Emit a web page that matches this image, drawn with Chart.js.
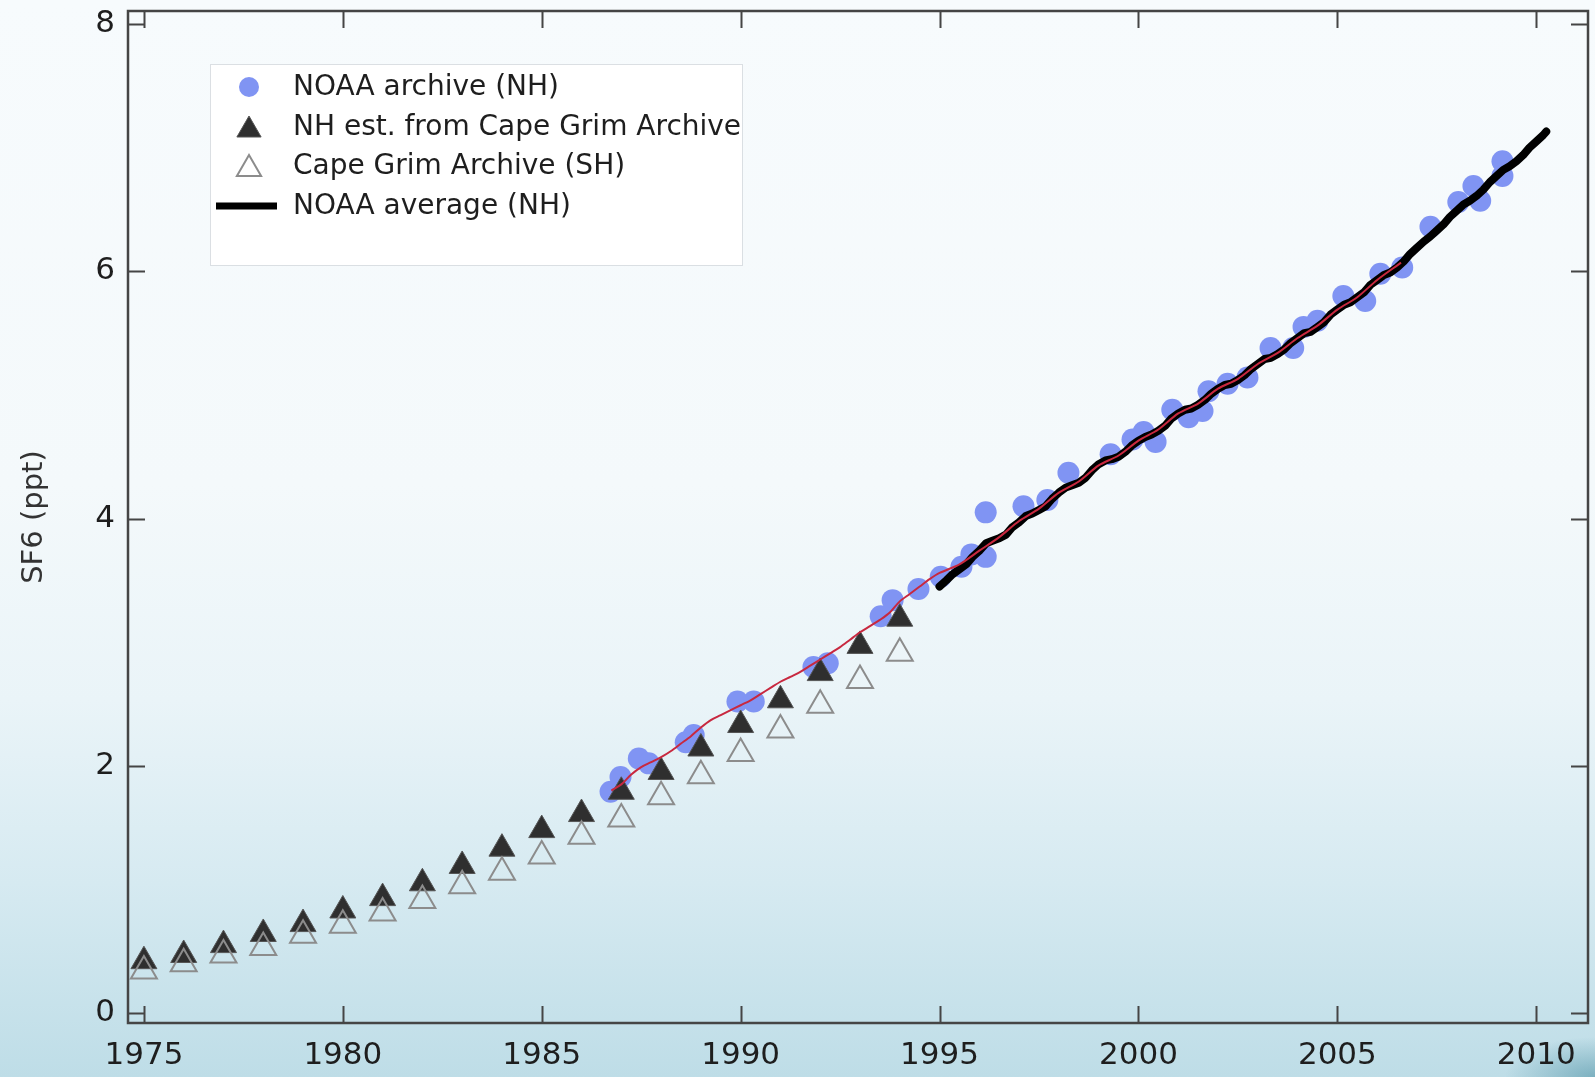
<!DOCTYPE html>
<html>
<head>
<meta charset="utf-8">
<script src="https://cdn.jsdelivr.net/npm/chart.js@4/dist/chart.umd.min.js"></script>
<style>
  html, body { margin: 0; padding: 0; }
  body {
    width: 1595px; height: 1077px; overflow: hidden;
    background:
      radial-gradient(ellipse 90px 40px at 100% 100%, rgba(70,140,160,0.55), rgba(70,140,160,0) 100%),
      linear-gradient(to bottom, #f7fbfd 0%, #f4f9fb 45%, #eaf4f8 65%, #d6eaf1 82%, #bedde7 100%);
  }
  #wrap { position: absolute; left: 0; top: 0; width: 1595px; height: 1077px; }
</style>
</head>
<body>
<div id="wrap"><canvas id="c" width="1595" height="1077"></canvas></div>
<script>
// ---------------- data ----------------
const xTicks = [1975, 1980, 1985, 1990, 1995, 2000, 2005, 2010];
const yTicks = [0, 2, 4, 6, 8];

const triYears = [1975, 1976, 1977, 1978, 1979, 1980, 1981, 1982, 1983, 1984,
                  1985, 1986, 1987, 1988, 1989, 1990, 1991, 1992, 1993, 1994];
const nhEstCapeGrim = [0.42, 0.47, 0.55, 0.64, 0.72, 0.83, 0.93, 1.05, 1.19, 1.33,
                       1.48, 1.61, 1.79, 1.95, 2.14, 2.33, 2.53, 2.75, 2.97, 3.19];
const capeGrimSH = [0.34, 0.40, 0.47, 0.53, 0.63, 0.71, 0.81, 0.91, 1.03, 1.14,
                    1.27, 1.43, 1.57, 1.75, 1.92, 2.10, 2.29, 2.49, 2.69, 2.91];

const archiveYears = [1986.73, 1986.98, 1987.44, 1987.69, 1988.62, 1988.82, 1989.92, 1990.33,
                      1991.83, 1992.19, 1993.52, 1993.82, 1994.47, 1995.03, 1995.55, 1995.80,
                      1996.16, 1996.16, 1997.11, 1997.71, 1998.24, 1999.30, 1999.85, 2000.13,
                      2000.43, 2000.85, 2001.26, 2001.61, 2001.76, 2002.24, 2002.74, 2003.32,
                      2003.89, 2004.15, 2004.50, 2005.15, 2005.70, 2006.08, 2006.63, 2007.34,
                      2008.04, 2008.42, 2008.59, 2009.15, 2009.15];
const archiveVals = [1.79, 1.91, 2.06, 2.02, 2.19, 2.25, 2.52, 2.52,
                     2.80, 2.83, 3.21, 3.34, 3.43, 3.53, 3.61, 3.71,
                     3.69, 4.05, 4.10, 4.15, 4.37, 4.52, 4.64, 4.70,
                     4.62, 4.88, 4.82, 4.87, 5.03, 5.09, 5.14, 5.38,
                     5.38, 5.55, 5.60, 5.80, 5.76, 5.98, 6.03, 6.36,
                     6.56, 6.69, 6.57, 6.89, 6.77];

const avgYears = [1995.00, 1995.17, 1995.33, 1995.50, 1995.67, 1995.83,
                  1996.00, 1996.17, 1996.33, 1996.50, 1996.67, 1996.83,
                  1997.00, 1997.17, 1997.33, 1997.50, 1997.67, 1997.83,
                  1998.00, 1998.17, 1998.33, 1998.50, 1998.67, 1998.83,
                  1999.00, 1999.17, 1999.33, 1999.50, 1999.67, 1999.83,
                  2000.00, 2000.17, 2000.33, 2000.50, 2000.67, 2000.83,
                  2001.00, 2001.17, 2001.33, 2001.50, 2001.67, 2001.83,
                  2002.00, 2002.17, 2002.33, 2002.50, 2002.67, 2002.83,
                  2003.00, 2003.17, 2003.33, 2003.50, 2003.67, 2003.83,
                  2004.00, 2004.17, 2004.33, 2004.50, 2004.67, 2004.83,
                  2005.00, 2005.17, 2005.33, 2005.50, 2005.67, 2005.83,
                  2006.00, 2006.17, 2006.33, 2006.50, 2006.67, 2006.83,
                  2007.00, 2007.17, 2007.33, 2007.50, 2007.67, 2007.83,
                  2008.00, 2008.17, 2008.33, 2008.50, 2008.67, 2008.83,
                  2009.00, 2009.17, 2009.33, 2009.50, 2009.67, 2009.83,
                  2010.00, 2010.17, 2010.25];
const avgVals = [3.45, 3.50, 3.55, 3.59, 3.63, 3.69,
                 3.74, 3.80, 3.82, 3.84, 3.87, 3.93,
                 3.97, 4.02, 4.04, 4.07, 4.10, 4.16,
                 4.21, 4.25, 4.27, 4.29, 4.33, 4.39,
                 4.44, 4.47, 4.48, 4.50, 4.54, 4.59,
                 4.63, 4.66, 4.68, 4.71, 4.75, 4.81,
                 4.85, 4.88, 4.89, 4.92, 4.96, 5.01,
                 5.05, 5.08, 5.09, 5.12, 5.16, 5.21,
                 5.25, 5.29, 5.30, 5.33, 5.37, 5.42,
                 5.46, 5.50, 5.51, 5.55, 5.59, 5.65,
                 5.69, 5.73, 5.75, 5.79, 5.83, 5.89,
                 5.93, 5.97, 5.99, 6.03, 6.08, 6.14,
                 6.19, 6.24, 6.28, 6.33, 6.38, 6.44,
                 6.49, 6.54, 6.57, 6.61, 6.66, 6.72,
                 6.77, 6.82, 6.85, 6.89, 6.94, 7.00,
                 7.05, 7.10, 7.13];

const fitYears = [1986.75, 1987.00, 1987.25, 1987.50, 1987.75, 1988.00, 1988.25, 1988.50, 1988.75,
                  1989.00, 1989.25, 1989.50, 1989.75, 1990.00, 1990.25, 1990.50, 1990.75,
                  1991.00, 1991.25, 1991.50, 1991.75, 1992.00, 1992.25, 1992.50, 1992.75,
                  1993.00, 1993.25, 1993.50, 1993.75, 1994.00, 1994.25, 1994.50, 1994.75,
                  1995.00, 1995.50, 1996.00, 1996.50, 1997.00, 1997.50, 1998.00, 1998.50,
                  1999.00, 1999.50, 2000.00, 2000.50, 2001.00, 2001.50, 2002.00, 2002.50,
                  2003.00, 2003.50, 2004.00, 2004.50, 2005.00, 2005.50, 2006.00, 2006.60];
const fitVals = [1.80, 1.85, 1.93, 1.99, 2.03, 2.07, 2.12, 2.18, 2.24,
                 2.31, 2.37, 2.41, 2.45, 2.49, 2.53, 2.58, 2.63,
                 2.68, 2.72, 2.76, 2.81, 2.86, 2.91, 2.96, 3.02,
                 3.08, 3.13, 3.18, 3.24, 3.33, 3.39, 3.45, 3.51,
                 3.56, 3.63, 3.74, 3.85, 3.98, 4.08, 4.21, 4.30,
                 4.43, 4.51, 4.63, 4.72, 4.85, 4.93, 5.05, 5.13,
                 5.25, 5.34, 5.46, 5.56, 5.69, 5.79, 5.93, 6.07];

const legendLabels = ['NOAA archive (NH)', 'NH est. from Cape Grim Archive', 'Cape Grim Archive (SH)', 'NOAA average (NH)'];

// ---------------- helpers ----------------
const pts = (xs, ys) => xs.map((x, i) => ({ x: x, y: ys[i] }));
const FONT = '"DejaVu Sans", "Liberation Sans", sans-serif';
const BLUE = '#8094f3';
const DARK = '#2f2f2f';
const GREY = '#8c8c8c';
const AXIS = '#454545';

const framePlugin = {
  id: 'frame',
  afterDraw(chart) {
    const ctx = chart.ctx, a = chart.chartArea;
    const xs = chart.scales.x, ys = chart.scales.y;
    ctx.save();
    ctx.strokeStyle = AXIS;
    ctx.lineWidth = 2.5;
    ctx.strokeRect(a.left, a.top, a.right - a.left, a.bottom - a.top);
    ctx.lineWidth = 2;
    const L = 17;
    ctx.beginPath();
    xTicks.forEach(v => {
      const px = Math.round(xs.getPixelForValue(v)) + 0.5;
      ctx.moveTo(px, a.bottom); ctx.lineTo(px, a.bottom - L);
      ctx.moveTo(px, a.top); ctx.lineTo(px, a.top + L);
    });
    yTicks.forEach(v => {
      const py = Math.round(ys.getPixelForValue(v)) + 0.5;
      ctx.moveTo(a.left, py); ctx.lineTo(a.left + L, py);
      ctx.moveTo(a.right, py); ctx.lineTo(a.right - L, py);
    });
    ctx.stroke();

    // legend
    const bx = 210, by = 64, bw = 532, bh = 201;
    ctx.fillStyle = 'rgba(255,255,255,0.92)';
    ctx.fillRect(bx, by, bw, bh);
    ctx.strokeStyle = 'rgba(215,220,224,0.9)';
    ctx.lineWidth = 1;
    ctx.strokeRect(bx + 0.5, by + 0.5, bw, bh);
    const rows = [87, 127, 166, 206];
    const mx = 249, tx = 293;
    ctx.fillStyle = BLUE;
    ctx.beginPath(); ctx.arc(mx, rows[0], 10, 0, Math.PI * 2); ctx.fill();
    const tri = (cx, cy, r) => {
      ctx.beginPath();
      ctx.moveTo(cx, cy - r);
      ctx.lineTo(cx + r * 0.866, cy + r * 0.5);
      ctx.lineTo(cx - r * 0.866, cy + r * 0.5);
      ctx.closePath();
    };
    tri(mx, rows[1] + 3, 14);
    ctx.fillStyle = DARK; ctx.fill();
    ctx.strokeStyle = '#555'; ctx.lineWidth = 1; ctx.stroke();
    tri(mx, rows[2] + 3, 14);
    ctx.strokeStyle = GREY; ctx.lineWidth = 2; ctx.stroke();
    ctx.strokeStyle = '#000'; ctx.lineWidth = 7; ctx.lineCap = 'butt';
    ctx.beginPath(); ctx.moveTo(216, rows[3]); ctx.lineTo(277, rows[3]); ctx.stroke();
    ctx.fillStyle = '#1e1e1e';
    ctx.font = '28px ' + FONT;
    ctx.textBaseline = 'middle';
    ctx.textAlign = 'left';
    legendLabels.forEach((t, i) => ctx.fillText(t, tx, rows[i] + 1));
    ctx.restore();
  }
};

new Chart(document.getElementById('c'), {
  type: 'scatter',
  data: {
    datasets: [
      {
        label: 'NOAA average (NH)', type: 'line', order: 2,
        data: pts(avgYears, avgVals), borderColor: '#000', borderWidth: 8,
        pointRadius: 0, tension: 0, fill: false, borderCapStyle: 'round', borderJoinStyle: 'round'
      },
      {
        label: 'fit', type: 'line', order: 1,
        data: pts(fitYears, fitVals), borderColor: '#c8283f', borderWidth: 2,
        pointRadius: 0, tension: 0.3, fill: false
      },
      {
        label: 'Cape Grim Archive (SH)', order: 3,
        data: pts(triYears, capeGrimSH), pointStyle: 'triangle', pointRadius: 15,
        backgroundColor: 'rgba(255,255,255,0)', borderColor: GREY, borderWidth: 2
      },
      {
        label: 'NH est. from Cape Grim Archive', order: 4,
        data: pts(triYears, nhEstCapeGrim), pointStyle: 'triangle', pointRadius: 15,
        backgroundColor: DARK, borderColor: '#555', borderWidth: 1
      },
      {
        label: 'NOAA archive (NH)', order: 5,
        data: pts(archiveYears, archiveVals), pointStyle: 'circle', pointRadius: 11,
        backgroundColor: BLUE, borderColor: BLUE, borderWidth: 0
      }
    ]
  },
  options: {
    responsive: false,
    animation: false,
    layout: { autoPadding: false, padding: { top: 11, right: 7, left: 0, bottom: 0 } },
    plugins: { legend: { display: false }, tooltip: { enabled: false } },
    scales: {
      x: {
        type: 'linear', min: 1974.6, max: 2011.3,
        afterBuildTicks: s => { s.ticks = xTicks.map(v => ({ value: v })); },
        afterFit: s => { s.height = 54; s.paddingLeft = 0; s.paddingRight = 0; },
        grid: { display: false }, border: { display: false },
        ticks: { color: '#1e1e1e', font: { family: FONT, size: 31 }, padding: 6, maxRotation: 0, autoSkip: false,
                 callback: v => String(v) }
      },
      y: {
        type: 'linear', min: -0.08, max: 8.105,
        afterBuildTicks: s => { s.ticks = yTicks.map(v => ({ value: v })); },
        afterFit: s => { s.width = 128; s.paddingTop = 0; s.paddingBottom = 0; },
        grid: { display: false }, border: { display: false },
        title: { display: true, text: 'SF6 (ppt)', color: '#333', font: { family: FONT, size: 29 }, padding: { top: 17, bottom: 0 } },
        ticks: { color: '#1e1e1e', font: { family: FONT, size: 31 }, padding: 5, autoSkip: false,
                 callback: v => String(v) }
      }
    }
  },
  plugins: [framePlugin]
});
</script>
</body>
</html>
